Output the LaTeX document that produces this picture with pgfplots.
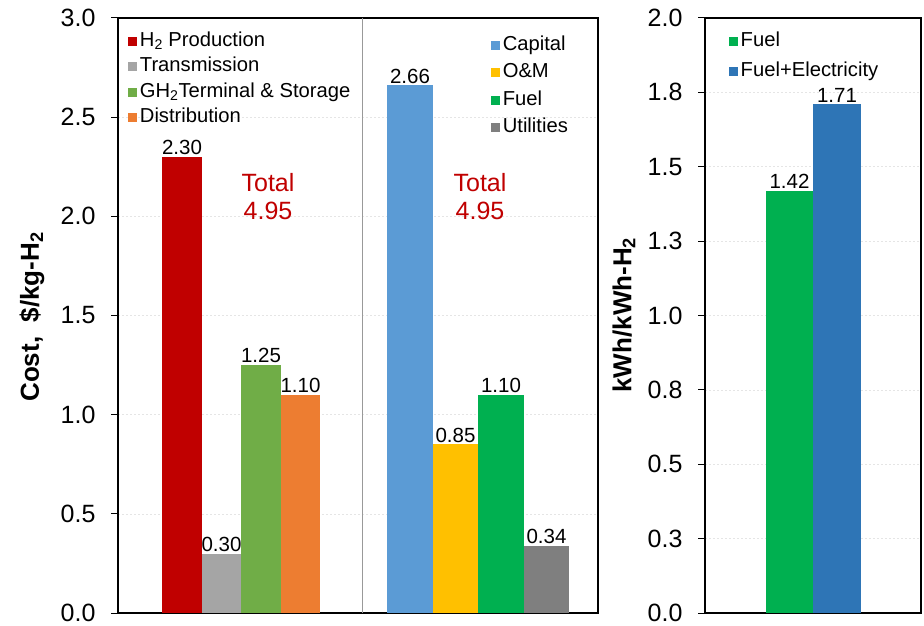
\documentclass[border=0pt]{standalone}
\usepackage{pgfplots}
\pgfplotsset{compat=1.18}
\usepackage{fontspec}
\setmainfont{Liberation Sans}
\definecolor{cRed}{HTML}{C00000}
\definecolor{cGray}{HTML}{A5A5A5}
\definecolor{cGreenL}{HTML}{70AD47}
\definecolor{cOrange}{HTML}{ED7D31}
\definecolor{cBlueL}{HTML}{5B9BD5}
\definecolor{cYellow}{HTML}{FFC000}
\definecolor{cGreen}{HTML}{00B050}
\definecolor{cGrayD}{HTML}{7F7F7F}
\definecolor{cBlue}{HTML}{2E75B6}
\begin{document}
\begin{tikzpicture}
\pgfplotsset{
  mybase/.style={
    scale only axis, anchor=south west,
    ybar,
    legend image code/.code={\fill[##1] (0pt,-4.5pt) rectangle (9pt,4.5pt);},
    ymin=0,
    xtick=\empty,
    ytick pos=left,
    tick align=outside,
    major tick length=7pt,
    tick style={black, line width=1pt},
    axis line style={black, line width=1.3pt},
    tick label style={font=\fontsize{25}{27}\selectfont},
    yticklabel style={xshift=-12pt},
    /pgf/number format/assume math mode=true,
    ymajorgrids,
    major grid style={draw=black!10, dash pattern=on 2pt off 2pt, line width=0.6pt},
    nodes near coords={\pgfmathprintnumber[fixed,fixed zerofill,precision=2,assume math mode=true]{\pgfplotspointmeta}},
    nodes near coords style={font=\fontsize{20.5}{22}\selectfont, inner sep=2pt, black},
    legend cell align=left,
    legend style={draw=none, fill=none, font=\fontsize{20.2}{22}\selectfont,
      nodes={text height=14.5pt, text depth=4pt, inner ysep=1.5pt, inner xsep=3pt}},
  },
}
% ---- left panel, first group
\begin{axis}[mybase,
  at={(118pt,12pt)}, width=480pt, height=595pt,
  xmin=118, xmax=598, ymax=3,
  ytick={0,0.5,...,3},
  yticklabel={\pgfmathprintnumber[fixed,fixed zerofill,precision=1]{\tick}},
  legend style={at={(0.014,0.983)}, anchor=north west, row sep=4pt},
]
\addplot[fill=cRed, draw=none, bar width=39.5, bar shift=0] coordinates {(182,2.30)};
\addplot[fill=cGray, draw=none, bar width=39.5, bar shift=0] coordinates {(221.5,0.30)};
\addplot[fill=cGreenL, draw=none, bar width=39.5, bar shift=0] coordinates {(261,1.25)};
\addplot[fill=cOrange, draw=none, bar width=39.5, bar shift=0] coordinates {(300.5,1.10)};
\legend{H\textsubscript{2} Production, Transmission, GH\textsubscript{2}Terminal \& Storage, Distribution}
\draw[black!40, line width=1pt] (axis cs:362,0) -- (axis cs:362,3);
\node[text=cRed, align=center, font=\fontsize{25}{28}\selectfont] at (axis cs:268,2.10) {Total\\4.95};
\node[text=cRed, align=center, font=\fontsize{25}{28}\selectfont] at (axis cs:480,2.10) {Total\\4.95};
\end{axis}
% ---- left panel, second group (overlay)
\begin{axis}[mybase,
  at={(118pt,12pt)}, width=480pt, height=595pt,
  xmin=118, xmax=598, ymax=3,
  hide axis,
  legend style={at={(0.77,0.976)}, anchor=north west, row sep=6pt},
]
\addplot[fill=cBlueL, draw=none, bar width=45.5, bar shift=0] coordinates {(410,2.66)};
\addplot[fill=cYellow, draw=none, bar width=45.5, bar shift=0] coordinates {(455.5,0.85)};
\addplot[fill=cGreen, draw=none, bar width=45.5, bar shift=0] coordinates {(501,1.10)};
\addplot[fill=cGrayD, draw=none, bar width=45.5, bar shift=0] coordinates {(546.5,0.34)};
\legend{Capital, O\&M, Fuel, Utilities}
\end{axis}
% ---- right panel
\begin{axis}[mybase,
  at={(705pt,12pt)}, width=216pt, height=595pt,
  xmin=705, xmax=921, ymax=2,
  ytick={0,0.25,...,2},
  yticklabels={\mbox{0.0},\mbox{0.3},\mbox{0.5},\mbox{0.8},\mbox{1.0},\mbox{1.3},\mbox{1.5},\mbox{1.8},\mbox{2.0}},
  legend style={at={(0.095,0.982)}, anchor=north west, row sep=8pt},
]
\addplot[fill=cGreen, draw=none, bar width=47.5, bar shift=0] coordinates {(789.5,1.42)};
\addplot[fill=cBlue, draw=none, bar width=47.5, bar shift=0] coordinates {(837,1.71)};
\legend{Fuel, Fuel+Electricity}
\end{axis}
\node[rotate=90, font=\bfseries\fontsize{26}{28}\selectfont] at (32pt,308pt) {Cost,\ \ \$/kg-H\textsubscript{2}};
\node[rotate=90, font=\bfseries\fontsize{26}{28}\selectfont] at (624pt,310pt) {kWh/kWh-H\textsubscript{2}};
\pgfresetboundingbox
\useasboundingbox (0pt,0pt) rectangle (924pt,625pt);
\end{tikzpicture}
\end{document}
